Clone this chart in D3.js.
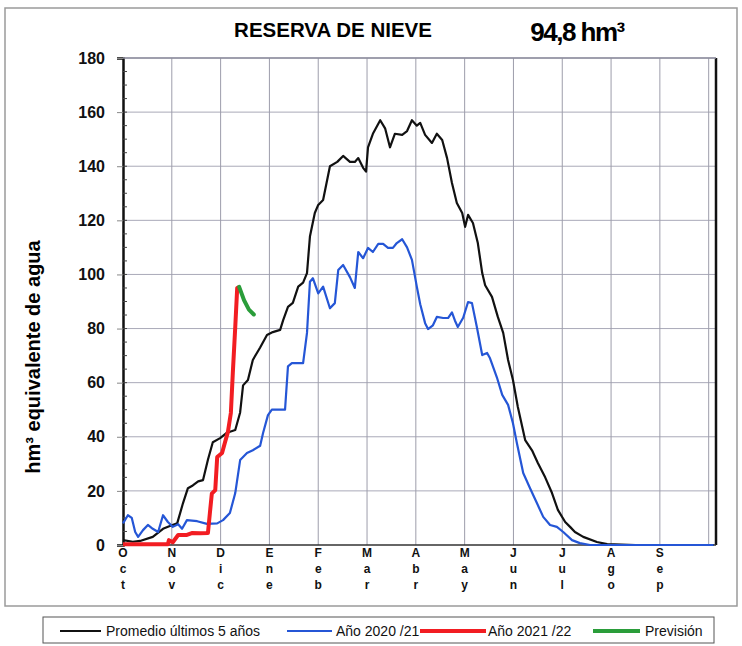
<!DOCTYPE html>
<html>
<head>
<meta charset="utf-8">
<script src="https://cdn.jsdelivr.net/npm/d3@7/dist/d3.min.js"></script>
<style>
  body { margin: 0; background: #fff; }
  svg { display: block; font-family: "Liberation Sans", Arial, sans-serif; }
</style>
</head>
<body>
<div id="chart"></div>
<script>
// x = months since 1 Oct (0 = Oct 1), y = hm³
const monthLabels = ["Oct", "Nov", "Dic", "Ene", "Feb", "Mar", "Abr", "May", "Jun", "Jul", "Ago", "Sep"];
const yTicks = [0, 20, 40, 60, 80, 100, 120, 140, 160, 180];

const promedio = [
  [0.00, 1.8], [0.20, 1.2], [0.35, 1.5], [0.61, 3], [0.82, 6], [0.96, 7], [1.11, 8],
  [1.23, 15.5], [1.33, 21], [1.43, 22], [1.54, 23.5], [1.64, 24], [1.74, 31.5],
  [1.84, 38], [1.99, 39.5], [2.13, 41.5], [2.30, 42.5], [2.40, 49], [2.46, 59],
  [2.56, 61], [2.66, 68.4], [2.81, 73], [2.95, 77.6], [3.07, 78.7], [3.22, 79.5],
  [3.28, 83], [3.38, 88], [3.48, 89.5], [3.59, 95.5], [3.69, 97], [3.77, 100.5],
  [3.83, 114], [3.93, 122.7], [4.00, 125.7], [4.10, 127.5], [4.24, 140], [4.39, 141.6],
  [4.51, 143.8], [4.65, 141.6], [4.75, 141.6], [4.82, 143], [4.92, 139.4], [4.98, 138],
  [5.02, 147], [5.12, 152], [5.27, 157], [5.37, 154], [5.47, 147], [5.57, 152],
  [5.72, 151.6], [5.82, 153], [5.92, 157], [6.02, 155], [6.09, 156], [6.19, 151.6],
  [6.33, 148.6], [6.43, 152], [6.54, 149.7], [6.64, 143], [6.74, 133.8], [6.84, 126.4],
  [6.95, 122.7], [7.01, 117.6], [7.07, 122], [7.17, 119], [7.27, 111.6], [7.36, 100.5],
  [7.42, 96], [7.56, 91.7], [7.68, 84.3], [7.79, 78.4], [7.89, 68.4], [7.99, 61],
  [8.09, 51], [8.24, 38.8], [8.38, 35], [8.50, 30.3], [8.65, 25], [8.79, 19.2],
  [8.91, 13], [9.06, 8.5], [9.16, 6.7], [9.26, 4.8], [9.43, 3], [9.71, 1.1],
  [9.92, 0.3], [10.5, 0], [12.1, 0]
];

const anio2021 = [
  [0.00, 8], [0.10, 11], [0.18, 10], [0.25, 4.8], [0.31, 3], [0.41, 5.5], [0.51, 7.4],
  [0.61, 6], [0.72, 4.8], [0.82, 11], [0.92, 8.5], [1.02, 6.7], [1.13, 7.7], [1.21, 6],
  [1.31, 9.2], [1.52, 8.8], [1.72, 7.8], [1.93, 8], [2.05, 9.2], [2.19, 11.8],
  [2.30, 19.2], [2.40, 31.4], [2.54, 34], [2.66, 35], [2.81, 36.7], [2.87, 41.4],
  [2.97, 48], [3.05, 50], [3.32, 50], [3.38, 66], [3.46, 67.2], [3.69, 67.2],
  [3.77, 78.4], [3.83, 97.3], [3.89, 98.6], [4.00, 93], [4.10, 95.5], [4.24, 87.5],
  [4.34, 89.4], [4.41, 101.6], [4.51, 103.5], [4.65, 99], [4.75, 95], [4.82, 108.3],
  [4.92, 106], [5.02, 109.8], [5.12, 108.3], [5.23, 111.3], [5.33, 111.3], [5.43, 109.8],
  [5.53, 109.8], [5.61, 111.6], [5.72, 113], [5.82, 110], [5.92, 105.4], [6.02, 95.5],
  [6.09, 89], [6.19, 82], [6.25, 79.8], [6.35, 81.2], [6.43, 84.3], [6.56, 83.9],
  [6.66, 83.9], [6.74, 86], [6.80, 83], [6.86, 80.6], [6.97, 84], [7.07, 89.8],
  [7.15, 89.4], [7.25, 80.6], [7.36, 70.2], [7.46, 71], [7.52, 69], [7.66, 62],
  [7.77, 55.5], [7.89, 51.8], [7.99, 45], [8.07, 37.7], [8.20, 26.6], [8.34, 21],
  [8.48, 15.5], [8.61, 10.4], [8.75, 7.4], [8.89, 6.7], [9.02, 4.8], [9.20, 1.8],
  [9.36, 0.7], [9.57, 0], [12.1, 0]
];

const anio2122 = [
  [0.00, 0.3], [0.92, 0.3], [0.94, 1.8], [1.02, 1], [1.13, 3.7], [1.31, 3.7],
  [1.41, 4.4], [1.58, 4.3], [1.74, 4.4], [1.78, 11.8], [1.82, 19], [1.89, 20.3],
  [1.93, 32.5], [2.03, 34], [2.09, 38], [2.15, 41.8], [2.21, 48.8], [2.25, 63.6],
  [2.30, 80.6], [2.34, 95], [2.38, 95.4]
];

const prevision = [[2.38, 95.4], [2.48, 90.5], [2.58, 87], [2.68, 85.2]];

const width = 742, height = 646;
const plot = { left: 123, right: 716, top: 58, bottom: 545 };

const svg = d3.select("#chart").append("svg")
  .attr("width", width)
  .attr("height", height);

const x = d3.scaleLinear().domain([0, 12.15]).range([plot.left, plot.right]);
const y = d3.scaleLinear().domain([0, 180]).range([plot.bottom, plot.top]);

// outer frame
svg.append("rect")
  .attr("x", 5).attr("y", 8)
  .attr("width", 732).attr("height", 598)
  .attr("fill", "none")
  .attr("stroke", "#9a9a9a")
  .attr("stroke-width", 1.5);

// titles
svg.append("text")
  .attr("x", 333).attr("y", 37)
  .attr("text-anchor", "middle")
  .style("font-size", "20.5px").style("font-weight", "bold")
  .text("RESERVA DE NIEVE");

svg.append("text")
  .attr("x", 577).attr("y", 41)
  .attr("text-anchor", "middle")
  .style("font-size", "26px").style("font-weight", "bold")
  .style("letter-spacing", "-1.5px")
  .text("94,8 hm³");

// grid
const grid = svg.append("g");
grid.selectAll(".hgrid")
  .data(yTicks.filter(d => d > 0))
  .join("line")
  .attr("x1", plot.left).attr("x2", plot.right)
  .attr("y1", d => y(d)).attr("y2", d => y(d))
  .attr("stroke", "#a9a9b8").attr("stroke-width", 1);

grid.selectAll(".vgrid")
  .data(d3.range(1, 13))
  .join("line")
  .attr("x1", d => x(d)).attr("x2", d => x(d))
  .attr("y1", plot.top).attr("y2", plot.bottom)
  .attr("stroke", "#9d9dab").attr("stroke-width", 1);

// y axis
const yAxis = svg.append("g")
  .attr("transform", `translate(${plot.left},0)`)
  .call(d3.axisLeft(y).tickValues(yTicks).tickSize(6).tickPadding(12))
  .call(g => g.select(".domain").attr("stroke", "#111").attr("stroke-width", 2.5));
yAxis.selectAll("text")
  .style("font-size", "16px").style("font-weight", "bold")
  .style("font-family", "'Liberation Sans', Arial, sans-serif")
  .attr("fill", "#111");
yAxis.selectAll(".tick line").attr("stroke", "#888");

// minor ticks every 5
svg.append("g")
  .selectAll("line")
  .data(d3.range(5, 180, 5))
  .join("line")
  .attr("x1", plot.left).attr("x2", plot.left + 4)
  .attr("y1", d => y(d)).attr("y2", d => y(d))
  .attr("stroke", "#444").attr("stroke-width", 1);

// right border and bottom axis
svg.append("line")
  .attr("x1", plot.right).attr("x2", plot.right)
  .attr("y1", plot.top).attr("y2", plot.bottom)
  .attr("stroke", "#111").attr("stroke-width", 2.5);
svg.append("line")
  .attr("x1", plot.left).attr("x2", plot.right)
  .attr("y1", plot.top).attr("y2", plot.top)
  .attr("stroke", "#8e8e9e").attr("stroke-width", 1.5);
svg.append("line")
  .attr("x1", plot.left).attr("x2", plot.right)
  .attr("y1", plot.bottom).attr("y2", plot.bottom)
  .attr("stroke", "#333").attr("stroke-width", 1.5);

// x labels, letters stacked vertically
const xLab = svg.append("g")
  .selectAll("g")
  .data(monthLabels)
  .join("g")
  .attr("transform", (d, i) => `translate(${x(i)},0)`);
xLab.selectAll("text")
  .data(d => d.split(""))
  .join("text")
  .attr("x", 0)
  .attr("y", (d, j) => 557 + j * 16)
  .attr("text-anchor", "middle")
  .style("font-size", "12px").style("font-weight", "bold")
  .attr("fill", "#111")
  .text(d => d);

// y axis title
svg.append("text")
  .attr("transform", "translate(40,357) rotate(-90)")
  .attr("text-anchor", "middle")
  .style("font-size", "20px").style("font-weight", "bold")
  .text("hm³ equivalente de agua");

// series
const line = d3.line().x(d => x(d[0])).y(d => y(d[1])).curve(d3.curveLinear);

svg.append("path").datum(promedio)
  .attr("d", line).attr("fill", "none")
  .attr("stroke", "#111").attr("stroke-width", 2.2).attr("stroke-linejoin", "round");

svg.append("path").datum(anio2021)
  .attr("d", line).attr("fill", "none")
  .attr("stroke", "#2556d6").attr("stroke-width", 2.2).attr("stroke-linejoin", "round");

svg.append("path").datum(anio2122)
  .attr("d", line).attr("fill", "none")
  .attr("stroke", "#f21d22").attr("stroke-width", 4).attr("stroke-linejoin", "round");

svg.append("path").datum(prevision)
  .attr("d", line).attr("fill", "none")
  .attr("stroke", "#2a9d3a").attr("stroke-width", 4).attr("stroke-linecap", "round");

// legend
const legend = svg.append("g");
legend.append("rect")
  .attr("x", 43).attr("y", 617).attr("width", 671).attr("height", 26)
  .attr("fill", "#fff").attr("stroke", "#555").attr("stroke-width", 1);

const legendItems = [
  { label: "Promedio últimos 5 años", color: "#111", w: 2, x1: 60, x2: 101, tx: 106 },
  { label: "Año 2020 /21", color: "#2556d6", w: 2, x1: 287, x2: 332, tx: 336 },
  { label: "Año 2021 /22", color: "#f21d22", w: 4, x1: 420, x2: 486, tx: 488 },
  { label: "Previsión", color: "#2a9d3a", w: 4, x1: 593, x2: 640, tx: 645 }
];
const li = legend.selectAll("g").data(legendItems).join("g");
li.append("line")
  .attr("x1", d => d.x1).attr("x2", d => d.x2)
  .attr("y1", 631).attr("y2", 631)
  .attr("stroke", d => d.color).attr("stroke-width", d => d.w);
li.append("text")
  .attr("x", d => d.tx).attr("y", 636)
  .style("font-size", "14px")
  .attr("fill", "#111")
  .text(d => d.label);
</script>
</body>
</html>
